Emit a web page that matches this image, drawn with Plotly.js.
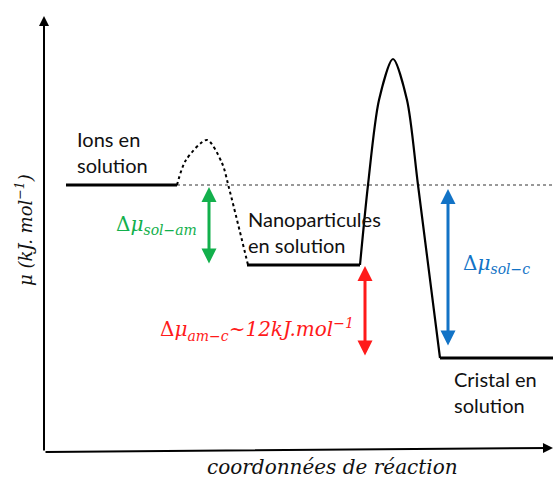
<!DOCTYPE html>
<html><head><meta charset="utf-8">
<script src="https://cdn.plot.ly/plotly-3.0.1.min.js"></script>
<style>body{margin:0;background:#fff}#c{width:553px;height:478px}</style>
</head><body><div id="c"></div>
<script>
// reaction coordinate (x) and chemical potential (y, picture units, increasing downward)
const ionsX = [66, 177], ionsY = [185, 185];
const nanoX = [247, 360], nanoY = [265, 265];
const cristX = [440, 553], cristY = [358, 358];
const refX = [177, 553], refY = [185, 185];
const humpX = [177, 186, 207, 222, 229, 248];
const humpY = [185, 160, 140, 163, 188, 265];
const peakX = [360, 368, 379, 393, 407, 418, 440];
const peakY = [265, 185, 100, 59, 100, 185, 358];
const arrowsX = {sol_am: 209, am_c: 365, sol_c: 448};

const black = '#000';
const traces = [
  {x: refX, y: refY, mode: 'lines', line: {color: '#333', width: 1, dash: 'dot'}},
  {x: ionsX, y: ionsY, mode: 'lines', line: {color: black, width: 3}},
  {x: nanoX, y: nanoY, mode: 'lines', line: {color: black, width: 3}},
  {x: cristX, y: cristY, mode: 'lines', line: {color: black, width: 3}},
  {x: humpX, y: humpY, mode: 'lines', line: {color: black, width: 2, dash: 'dot', shape: 'spline', smoothing: 0.8}},
  {x: peakX, y: peakY, mode: 'lines', line: {color: black, width: 2.2, shape: 'spline', smoothing: 0.8}}
];

function arrow(x, y, ax, ay, color, both, w) {
  return {x: x, y: y, ax: ax, ay: ay, xref: 'x', yref: 'y', axref: 'x', ayref: 'y',
    text: '', showarrow: true, arrowcolor: color, arrowwidth: w || 3, arrowhead: 2, startarrowhead: 2,
    arrowsize: 1, startarrowsize: 1, arrowside: both ? 'end+start' : 'end', standoff: 0, startstandoff: 0};
}
function label(x, y, text, color, size, font, anchor) {
  return {x: x, y: y, xref: 'x', yref: 'y', text: text, showarrow: false,
    xanchor: anchor || 'left', yanchor: 'middle', align: 'left',
    font: {color: color, size: size, family: font}};
}
const sans = 'Lato, "Open Sans", sans-serif';
const serif = '"DejaVu Serif", serif';
const green = '#12b04c', red = '#ff1a1a', blue = '#1273c6';

const annotations = [
  arrow(44, 16, 44, 452, black, false, 2),
  arrow(553, 448, 44, 452, black, false, 2),
  arrow(arrowsX.sol_am, 187, arrowsX.sol_am, 265, green, true, 3),
  arrow(arrowsX.am_c, 266, arrowsX.am_c, 357, red, true, 3),
  arrow(arrowsX.sol_c, 189, arrowsX.sol_c, 347, blue, true, 3),
  label(75, 152, 'Ions en<br>solution', '#111', 20, sans),
  label(246, 232, 'Nanoparticules<br>en solution', '#111', 20, sans),
  label(452, 392, 'Cristal en<br>solution', '#111', 20, sans),
  label(114, 225, 'Δ<i>μ<sub>sol−am</sub></i>', green, 20, serif),
  label(158, 329, 'Δ<i>μ<sub>am−c</sub>~12kJ.mol<sup>−1</sup></i>', red, 20, serif),
  label(461, 264, 'Δ<i>μ<sub>sol−c</sub></i>', blue, 20, serif),
  {x: 332, y: 467, xref: 'x', yref: 'y', text: '<i>coordonnées de réaction</i>', showarrow: false,
    font: {size: 20, family: serif, color: '#111'}},
  {x: 24, y: 230, xref: 'x', yref: 'y', text: '<i>μ (kJ. mol<sup>−1</sup>)</i>', showarrow: false, textangle: -90,
    font: {size: 18, family: serif, color: '#111'}}
];

Plotly.newPlot('c', traces, {
  width: 553, height: 478, margin: {l: 0, r: 0, t: 0, b: 0},
  paper_bgcolor: '#fff', plot_bgcolor: '#fff', showlegend: false,
  xaxis: {range: [0, 553], visible: false, fixedrange: true},
  yaxis: {range: [478, 0], visible: false, fixedrange: true},
  annotations: annotations
}, {staticPlot: true});
</script></body></html>
